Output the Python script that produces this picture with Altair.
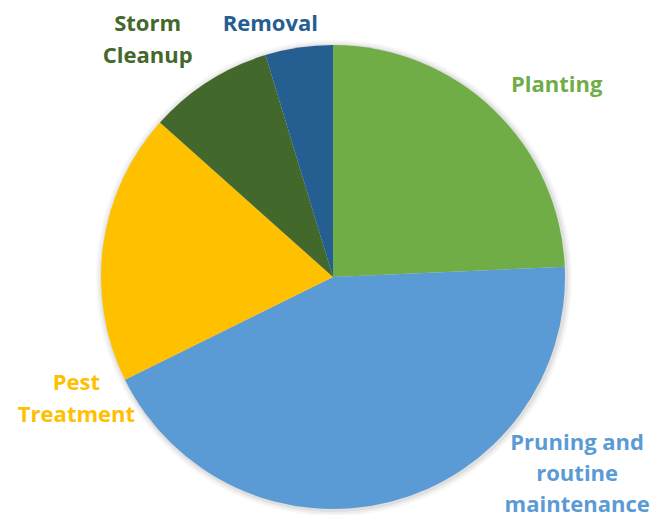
import math
import altair as alt
import pandas as pd

# ---- data ----
categories = ["Planting", "Pruning and routine maintenance", "Pest Treatment", "Storm Cleanup", "Removal"]
values = [24.3, 43.4, 18.9, 8.7, 4.7]
label_text = ["Planting", "Pruning and\nroutine\nmaintenance", "Pest\nTreatment", "Storm\nCleanup", "Removal"]
colors = ["#70AD47", "#5B9BD5", "#FFC000", "#43682B", "#255E91"]

# ---- layout / style ----
CX, CY = 325, 259          # pie centre inside the plot area
R = 232
label_radius = 270
label_dx = [37, 177, 11, -40, -23]
label_dy = [10, -89, 149, -18, 21]
line_height = [32, 31, 32, 32, 32]

df = pd.DataFrame({"category": categories, "value": values, "idx": list(range(len(values)))})

total = sum(values)
cum = 0.0
mids = []
for v in values:
    mids.append((cum + v / 2) / total * 2 * math.pi)
    cum += v

# soft shadow halo
halo_df = pd.DataFrame({"value": [1]})
layers = []
for rr, op in [(238, 0.03), (236, 0.04), (234, 0.06)]:
    layers.append(
        alt.Chart(halo_df).mark_arc(outerRadius=rr, color="#000000", opacity=op, stroke=None).encode(
            theta=alt.Theta("value:Q"),
            x=alt.value(CX + 1),
            y=alt.value(CY + 1),
        )
    )

pie = alt.Chart(df).mark_arc(outerRadius=R, stroke=None).encode(
    theta=alt.Theta("value:Q", stack=True),
    color=alt.Color("category:N", scale=alt.Scale(domain=categories, range=colors), legend=None),
    order=alt.Order("idx:Q"),
    x=alt.value(CX),
    y=alt.value(CY),
)
layers.append(pie)

for i, cat in enumerate(categories):
    ldf = pd.DataFrame({"label": [label_text[i]]})
    t = alt.Chart(ldf).mark_text(
        font="Open Sans",
        fontWeight="bold",
        fontSize=22,
        lineHeight=line_height[i],
        lineBreak="\n",
        align="center",
        baseline="alphabetic",
        color=colors[i],
        dx=label_dx[i],
        dy=label_dy[i],
    ).encode(
        text="label:N",
        theta=alt.value(mids[i]),
        radius=alt.value(label_radius),
        x=alt.value(CX),
        y=alt.value(CY),
    )
    layers.append(t)

chart = alt.layer(*layers).resolve_scale(theta="independent").properties(
    width=646,
    height=497,
    autosize=alt.AutoSizeParams(type="none"),
    padding={"top": 10, "left": 0, "right": 0, "bottom": 0},
).configure_view(stroke=None)

chart.save("out.html", embed_options={"renderer": "svg", "actions": False})
